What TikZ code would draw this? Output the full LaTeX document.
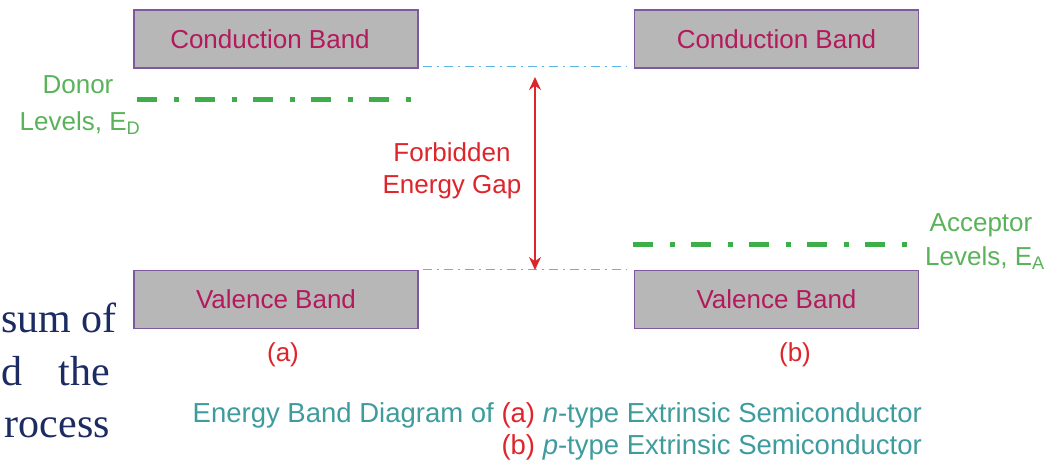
\documentclass[tikz,border=0pt]{standalone}
\usepackage{fontspec}
\setmainfont{Liberation Sans}
\newfontfamily\serifnav{Liberation Serif}
\usetikzlibrary{arrows.meta}
\definecolor{boxfill}{HTML}{B7B7B7}
\definecolor{boxline}{HTML}{7D5A9E}
\definecolor{bandtxt}{HTML}{B3195C}
\definecolor{greenline}{HTML}{3DAE49}
\definecolor{greentxt}{HTML}{5AB35A}
\definecolor{gapblue}{HTML}{5BB5E6}
\definecolor{gapred}{HTML}{DE252C}
\definecolor{capteal}{HTML}{3F9C9E}
\definecolor{navy}{HTML}{1C2B62}
\begin{document}
\begin{tikzpicture}[x=1pt,y=-1pt,
  band/.style={draw=boxline, line width=1.3pt, fill=boxfill, minimum width=284pt,
    minimum height=58pt, inner sep=0pt, text=bandtxt, font=\fontsize{26}{31}\selectfont},
  level/.style={draw=greenline, line width=5pt, dash pattern=on 20pt off 16.5pt on 5pt off 16.5pt},
  gapline/.style={draw=gapblue, line width=1.2pt, dash pattern=on 9pt off 5pt on 2pt off 5pt},
  lbl/.style={font=\fontsize{26}{32}\selectfont, inner sep=0pt, align=center},
  greenlbl/.style={lbl, text=greentxt},
  redlbl/.style={lbl, text=gapred},
  captext/.style={font=\fontsize{27.5}{33}\selectfont, inner sep=0pt, text=capteal},
  stray/.style={font=\serifnav\fontsize{42}{50}\selectfont, inner sep=0pt, text=navy},
  gaparrow/.style={draw=gapred, line width=1.5pt, {Stealth[length=13pt,width=12pt]}-{Stealth[length=13pt,width=12pt]}}
]
\clip (0,0) rectangle (1055,465);
\fill[white] (0,0) rectangle (1055,465);

% bands
\node[band] (cbL) at (276,39) {\hspace*{-12pt}Conduction Band};
\node[band] (cbR) at (776.5,39) {Conduction Band};
\node[band] (vbL) at (276,299.5) {Valence Band};
\node[band] (vbR) at (776.5,299.5) {Valence Band};

% gap edges
\draw[gapline] ([xshift=4pt,yshift=2pt]cbL.south east) -- ([xshift=-8pt,yshift=2pt]cbR.south west);
\draw[gapline] ([xshift=4pt,yshift=0pt]vbL.north east) -- ([xshift=-8pt,yshift=0pt]vbR.north west);

% forbidden gap arrow
\coordinate (gt) at (535,77);
\coordinate (gb) at (535,270);
\draw[gaparrow] (gt) -- (gb);
\node[redlbl] (fg) at (452,171) {Forbidden\\Energy Gap};

% donor / acceptor levels
\coordinate (d1) at (137,100);
\coordinate (d2) at (411,100);
\draw[level] (d1) -- (d2);
\node[greenlbl] (donor) at (78,85) {Donor};
\node[greenlbl] (donorl) at (80,123) {Levels, E\textsubscript{D}};

\coordinate (a1) at (633,245);
\coordinate (a2) at (907,245);
\draw[level] (a1) -- (a2);
\node[greenlbl] (acc) at (981,225) {Acceptor};
\node[greenlbl] (accl) at (985,258) {Levels, E\textsubscript{A}};

% (a), (b)
\node[redlbl] (la) at (283,355) {(a)};
\node[redlbl] (lb) at (795,355) {(b)};

% caption
\node[captext, anchor=east] (cap1) at (922,415) {Energy Band Diagram of {\color{gapred}(a)} \textit{n}-type Extrinsic Semiconductor};
\node[captext, anchor=east] (cap2) at (922,447) {{\color{gapred}(b)} \textit{p}-type Extrinsic Semiconductor};

% background text fragments
\node[stray, anchor=base west] (s1) at (1,332) {sum of};
\node[stray, anchor=base west] (s2) at (1,385) {d};
\node[stray, anchor=base east] (s3) at (110,385) {the};
\node[stray, anchor=base east] (s4) at (110,437) {rocess};
\end{tikzpicture}
\end{document}
